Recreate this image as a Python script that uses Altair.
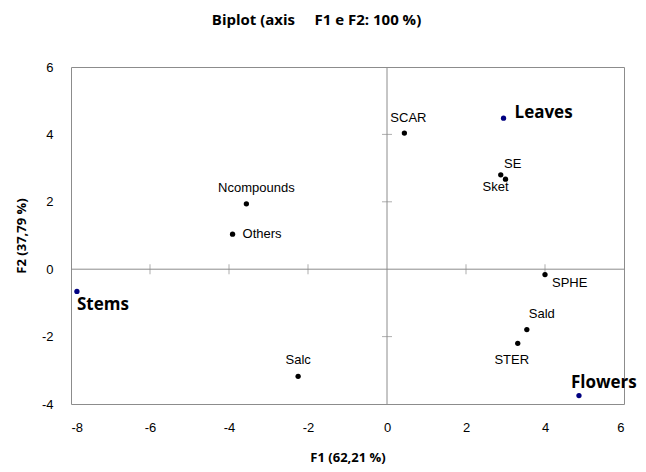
import altair as alt
import pandas as pd

# ---- data ----
names = ["Ncompounds", "Others", "SCAR", "SE", "Sket", "SPHE", "Sald", "STER", "Salc",
         "Leaves", "Stems", "Flowers"]
f1 = [-3.56, -3.91, 0.44, 2.88, 3.00, 4.00, 3.54, 3.31, -2.25, 2.95, -7.85, 4.86]
f2 = [1.94, 1.04, 4.04, 2.80, 2.67, -0.16, -1.79, -2.20, -3.18, 4.48, -0.66, -3.75]
groups = ["var"] * 9 + ["obs"] * 3

x_ticks = [-6, -4, -2, 2, 4]
y_ticks = [-2, 2, 4]

df = pd.DataFrame({"name": names, "f1": f1, "f2": f2, "group": groups})

# label placement (style): dx, dy, align
label_style = {
    "Ncompounds": (10, -16, "center"),
    "Others": (10, 0, "left"),
    "SCAR": (4, -15, "center"),
    "SE": (12, -11, "center"),
    "Sket": (-10, 8, "center"),
    "SPHE": (7, 8, "left"),
    "Sald": (15, -16, "center"),
    "STER": (-6, 17, "center"),
    "Salc": (0, -16, "center"),
    "Leaves": (11, -5, "left"),
    "Stems": (0, 14, "left"),
    "Flowers": (-8, -13, "left"),
}

GRAY = "#8c8c8c"
LABEL_FONT = "Liberation Sans"
BOLD_FONT = "Open Sans"
MINUS_FIX = "replace(datum.label, '\u2212', '-')"

xscale = alt.Scale(domain=[-8, 6], nice=False, zero=False)
yscale = alt.Scale(domain=[-4, 6], nice=False, zero=False)

xaxis = alt.Axis(values=[-8, -6, -4, -2, 0, 2, 4, 6], ticks=False, domain=False, grid=False,
                 labelExpr=MINUS_FIX,
                 labelFont=LABEL_FONT, labelFontSize=13, labelColor="black", labelPadding=17,
                 title="F1 (62,21 %)", titleFont=BOLD_FONT, titleFontSize=13, titleFontWeight="bold",
                 titleColor="black", titleY=53, titleBaseline="middle")
yaxis = alt.Axis(values=[-4, -2, 0, 2, 4, 6], ticks=False, domain=False, grid=False,
                 labelExpr=MINUS_FIX,
                 labelFont=LABEL_FONT, labelFontSize=13, labelColor="black", labelPadding=18,
                 title="F2 (37,79 %)", titleFont=BOLD_FONT, titleFontSize=13, titleFontWeight="bold",
                 titleColor="black", titleX=-50, titleBaseline="middle", titleAngle=-90)

base = alt.Chart(df)

points = base.mark_circle(size=28, opacity=1).encode(
    x=alt.X("f1:Q", scale=xscale, axis=xaxis),
    y=alt.Y("f2:Q", scale=yscale, axis=yaxis),
    color=alt.Color("group:N", scale=alt.Scale(domain=["var", "obs"], range=["#000000", "#000080"]),
                    legend=None),
)

zero_df = pd.DataFrame({"v": [0]})
vline = alt.Chart(zero_df).mark_rule(color=GRAY, strokeWidth=1).encode(x=alt.X("v:Q", scale=xscale))
hline = alt.Chart(zero_df).mark_rule(color=GRAY, strokeWidth=1).encode(y=alt.Y("v:Q", scale=yscale))

xt = alt.Chart(pd.DataFrame({"t": x_ticks, "z": [0] * len(x_ticks)})).mark_tick(
    orient="vertical", size=10, thickness=1, color=GRAY).encode(
    x=alt.X("t:Q", scale=xscale), y=alt.Y("z:Q", scale=yscale))
yt = alt.Chart(pd.DataFrame({"t": y_ticks, "z": [0] * len(y_ticks)})).mark_tick(
    orient="horizontal", size=10, thickness=1, color=GRAY).encode(
    y=alt.Y("t:Q", scale=yscale), x=alt.X("z:Q", scale=xscale))

text_layers = []
for n in names:
    dx, dy, align = label_style[n]
    is_obs = df.loc[df.name == n, "group"].iloc[0] == "obs"
    text_layers.append(
        base.transform_filter(alt.datum.name == n).mark_text(
            dx=dx, dy=dy, align=align, baseline="middle",
            font=BOLD_FONT if is_obs else LABEL_FONT,
            fontSize=17 if is_obs else 13,
            fontWeight="bold" if is_obs else "normal",
            color="black",
        ).encode(x=alt.X("f1:Q", scale=xscale), y=alt.Y("f2:Q", scale=yscale), text="name:N")
    )

chart = alt.layer(vline, hline, xt, yt, points, *text_layers).properties(
    width=553, height=337,
    autosize=alt.AutoSizeParams(type="none"),
    padding={"left": 63, "top": 59, "right": 14, "bottom": 60},
    title=alt.TitleParams("Biplot (axis\u00a0\u00a0\u00a0\u00a0\u00a0F1 e F2: 100 %)", font=BOLD_FONT,
                          fontSize=15, fontWeight="bold", color="black", anchor="middle",
                          frame="group", dx=-31, offset=33),
).configure_view(stroke=GRAY, strokeWidth=1)

chart.save("out.html", embed_options={"renderer": "svg", "actions": False})
